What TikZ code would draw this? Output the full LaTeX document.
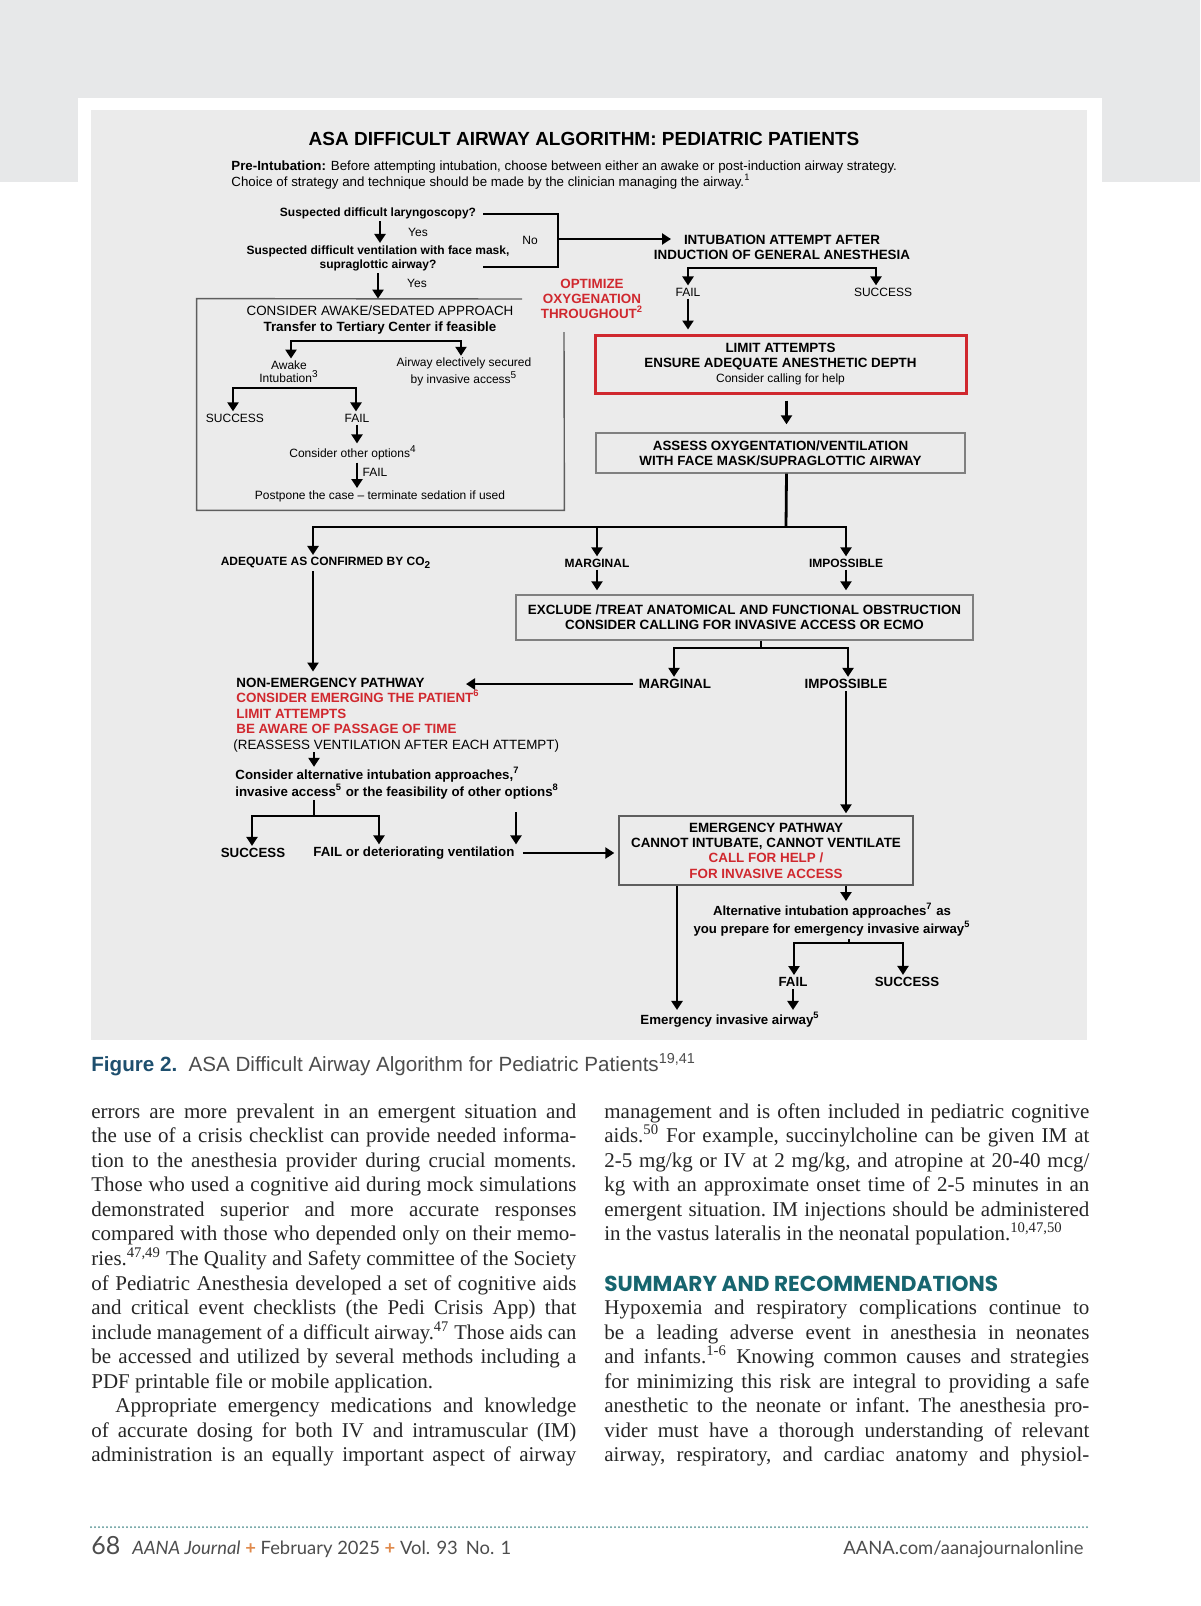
\documentclass[tikz,border=0pt]{standalone}
\usepackage{fontspec}
\usepackage{graphicx}
\setmainfont{Liberation Serif}
\newfontfamily\dfont{Liberation Sans}
\newfontfamily\headfont{Poppins}
\newfontfamily\footfont{Lato}
\usetikzlibrary{arrows.meta}
\definecolor{bandgray}{HTML}{E7E8E9}
\definecolor{figbg}{HTML}{EBEBEB}
\definecolor{algred}{HTML}{D0282E}
\definecolor{boxgray}{HTML}{5E5E5E}
\definecolor{capblue}{HTML}{1E4F6E}
\definecolor{headteal}{HTML}{17656F}
\definecolor{bodyink}{HTML}{262626}
\definecolor{footgray}{HTML}{4D4D4D}
\definecolor{plusor}{HTML}{E08A4C}
\definecolor{dotteal}{HTML}{4E8F8F}
\newcommand{\fsz}[2]{\fontsize{#1}{#2}\selectfont}
\newcommand{\colw}{242.5pt}
\newsavebox{\linebox}
\newcommand{\fitline}[1]{%
  \sbox{\linebox}{#1}%
  \ifdim\wd\linebox>\colw
    \pgfmathsetmacro{\fitf}{\colw/\the\wd\linebox}%
    \scalebox{\fitf}[1]{\usebox{\linebox}}%
  \else
    \makebox[\colw][s]{#1}%
  \fi}
\newcommand{\bline}[4]{\node[bodyline] (#1) at ({#2},{1118+24.57*#3}) {\fitline{#4}};}
\newcommand{\blast}[4]{\node[bodyline] (#1) at ({#2},{1118+24.57*#3}) {#4};}
\newcommand{\fork}[4]{%
  \draw[arr] (#2) -- (#1) -- (#1 |- #3.north);
  \draw[arr] (#1) -- (#2) -- (#2 |- #4.north);}
\tikzset{
  lbl/.style={inner sep=1pt, align=center, font=\dfont\fsz{6}{6.6}},
  bq/.style={inner sep=1pt, align=center, font=\dfont\bfseries\fsz{6}{7}},
  capb/.style={inner sep=1pt, align=center, font=\dfont\bfseries\fsz{6.7}{7.6}},
  smallcap/.style={inner sep=1pt, align=center, font=\dfont\bfseries\fsz{6}{7.6}},
  lowb/.style={inner sep=1pt, align=center, font=\dfont\bfseries\fsz{6.65}{7.5}},
  arr/.style={line width=1.4pt, -{Triangle[length=4.5pt,width=5.5pt]}},
  barline/.style={line width=1.4pt},
  framebox/.style={draw=boxgray, line width=0.7pt},
  bodyline/.style={anchor=base west, inner sep=0pt, text=bodyink, font=\frenchspacing\fsz{10.5}{12}}
}
\begin{document}
\begin{tikzpicture}[x=0.5pt,y=-0.5pt]
  \useasboundingbox (0,0) rectangle (1200,1606);
  \fill[white] (0,0) rectangle (1200,1606);
  \fill[bandgray] (0,0) rectangle (1200,182);
  \fill[white] (78,98) rectangle (1102,182);
  \fill[figbg] (91,110) rectangle (1087,1040);

  \node[inner sep=0pt, font=\dfont\bfseries\fsz{9.5}{11}] (title) at (584,139) {ASA DIFFICULT AIRWAY ALGORITHM: PEDIATRIC PATIENTS};
  \node[anchor=west, align=left, inner sep=0pt, font=\dfont\fsz{6.65}{8}] (pre) at (231,175)
    {\textbf{Pre-Intubation:} Before attempting intubation, choose between either an awake or post-induction airway strategy.\\
     Choice of strategy and technique should be made by the clinician managing the airway.\textsuperscript{1}};

  % awake / post-induction choice
  \node[bq] (q1) at (378,213) {Suspected difficult laryngoscopy?};
  \node[lbl] (yes1) at (418,232) {Yes};
  \node[bq] (q2) at (378,258) {Suspected difficult ventilation with face mask,\\supraglottic airway?};
  \node[lbl] (yes2) at (417,283) {Yes};
  \node[minimum width=183.5pt, minimum height=105.5pt, inner sep=0pt] (awk) at (380.5,404.5) {};
  \coordinate (awkgapL) at (522,299);
  \coordinate (awkgapR) at (564,332);
  \draw[framebox] (awkgapL) -- (awk.north west) -- (awk.south west) -- (awk.south east) -- (awkgapR);
  \draw[arr] ([xshift=1pt]q1.south) -- ([xshift=1pt]q1.south |- q2.north);
  \draw[arr] (q2.south) -- (q2.south |- awk.north);

  \coordinate (brTL) at (483,214);
  \coordinate (brBR) at (558,267);
  \coordinate (brBL) at (483,267);
  \coordinate (brNo) at (558,239);
  \coordinate (noTip) at (671,239);
  \draw[barline] (brTL) -| (brBR) -- (brBL);
  \node[lbl] (no) at (530,240) {No};
  \node[capb] (intub) at (782,247) {INTUBATION ATTEMPT AFTER\\INDUCTION OF GENERAL ANESTHESIA};
  \draw[arr] (brNo) -- (noTip);

  \coordinate (iL) at (688,268);
  \coordinate (iR) at (876,268);
  \node[lbl] (fail1) at (688,292) {FAIL};
  \node[lbl] (succ1) at (883,292) {SUCCESS};
  \fork{iL}{iR}{fail1}{succ1}

  \node[capb, text=algred] (opt) at (592,299) {OPTIMIZE\\OXYGENATION\\THROUGHOUT\textsuperscript{2}};

  \node[capb, draw=algred, line width=1.5pt, minimum width=185.5pt, minimum height=29pt] (lim) at (780.5,364)
    {LIMIT ATTEMPTS\\ENSURE ADEQUATE ANESTHETIC DEPTH\\{\mdseries\fsz{6}{7.4}Consider calling for help}};
  \draw[arr, shorten >=2pt] (fail1.south) -- (fail1.south |- lim.north);
  \node[capb, framebox, draw=gray, minimum width=184.5pt, minimum height=20pt] (assess) at (780.5,453)
    {ASSESS OXYGENTATION/VENTILATION\\WITH FACE MASK/SUPRAGLOTTIC AIRWAY};
  \draw[arr, shorten <=3pt, shorten >=4pt] ([xshift=3pt]lim.south) -- ([xshift=3pt]assess.north);

  \coordinate (aJ) at (786,527);
  \coordinate (aL) at (313,527);
  \coordinate (aR) at (846,527);
  \draw[barline] ([xshift=3pt]assess.south) -- (aJ);
  \node[smallcap] (adeq) at (326,563) {ADEQUATE AS CONFIRMED BY CO\textsubscript{2}};
  \node[smallcap] (marg1) at (597,563) {MARGINAL};
  \node[smallcap] (imp1) at (846,563) {IMPOSSIBLE};
  \fork{aL}{aR}{adeq}{imp1}
  \draw[arr] (marg1 |- aL) -- (marg1.north);

  \node[capb, framebox, draw=gray, minimum width=228.5pt, minimum height=22.5pt] (excl) at (744.5,617.5)
    {EXCLUDE /TREAT ANATOMICAL AND FUNCTIONAL OBSTRUCTION\\CONSIDER CALLING FOR INVASIVE ACCESS OR ECMO};
  \draw[arr, shorten >=2pt] (marg1.south) -- (marg1.south |- excl.north);
  \draw[arr, shorten >=2pt] (imp1.south) -- (imp1.south |- excl.north);

  \coordinate (eJ) at (761,648);
  \coordinate (eL) at (674,648);
  \coordinate (eR) at (848,648);
  \draw[barline] (eJ |- excl.south) -- (eJ);
  \node[capb] (marg2) at (675,684) {MARGINAL};
  \node[capb] (imp2) at (846,684) {IMPOSSIBLE};
  \fork{eL}{eR}{marg2}{imp2}

  % non-emergency pathway
  \node[anchor=west, align=left, inner sep=0pt, font=\dfont\bfseries\fsz{6.7}{7.75}] (nonem) at (233,715)
    {\hspace*{1.5pt}NON-EMERGENCY PATHWAY\\
     {\color{algred}\hspace*{1.5pt}CONSIDER EMERGING THE PATIENT\textsuperscript{6}}\\
     {\color{algred}\hspace*{1.5pt}LIMIT ATTEMPTS}\\
     {\color{algred}\hspace*{1.5pt}BE AWARE OF PASSAGE OF TIME}\\
     {\mdseries (REASSESS VENTILATION AFTER EACH ATTEMPT)}};
  \coordinate (nTip) at (466,682);
  \draw[arr, shorten <=2pt] (marg2.west) -- (marg2.west -| nTip);
  \draw[arr, shorten >=3pt] (adeq.south -| aL) -- (aL |- nonem.north);

  \node[anchor=west, align=left, inner sep=0pt, font=\dfont\bfseries\fsz{6.65}{7.5}] (alt) at (235,783.5)
    {Consider alternative intubation approaches,\textsuperscript{7}\\
     invasive access\textsuperscript{5} or the feasibility of other options\textsuperscript{8}};
  \coordinate (nX) at (314,800);
  \draw[arr] (nX |- nonem.south) -- (nX |- alt.north);

  \coordinate (sJ) at (314,816);
  \coordinate (sL) at (252,816);
  \coordinate (sR) at (379,816);
  \draw[barline] (nX |- alt.south) -- (sJ);
  \node[lowb] (succ2) at (253,853) {SUCCESS};
  \node[lowb, anchor=west] (fail2) at (311,853) {FAIL or deteriorating ventilation};
  \fork{sL}{sR}{succ2}{fail2}
  \coordinate (oX) at (516,820);
  \draw[arr, shorten <=6pt] (oX |- alt.south) -- (oX |- fail2.north);

  % emergency pathway
  \node[capb, framebox, font=\dfont\bfseries\fsz{6.7}{7.7}, minimum width=147pt, minimum height=34.5pt] (emerg) at (766,850.5)
    {EMERGENCY PATHWAY\\CANNOT INTUBATE, CANNOT VENTILATE\\{\color{algred}CALL FOR HELP /}\\{\color{algred}FOR INVASIVE ACCESS}};
  \draw[arr, shorten <=3pt, shorten >=2pt] (fail2.east) -- (fail2.east -| emerg.west);
  \draw[arr, shorten >=1pt] (imp2.south) -- (imp2.south |- emerg.north);

  \node[lowb, font=\dfont\bfseries\fsz{6.6}{9}] (alt2) at (832,920)
    {Alternative intubation approaches\textsuperscript{7} as\\you prepare for emergency invasive airway\textsuperscript{5}};
  \draw[arr] (imp2 |- emerg.south) -- (imp2 |- alt2.north);
  \coordinate (fJ) at (849,943);
  \coordinate (fL) at (794,943);
  \coordinate (fR) at (903,943);
  \draw[barline] (fJ |- alt2.south) -- (fJ);
  \node[lowb] (fail3) at (793,982) {FAIL};
  \node[lowb] (succ3) at (907,982) {SUCCESS};
  \fork{fL}{fR}{fail3}{succ3}
  \node[lowb] (eia) at (730,1020) {Emergency invasive airway\textsuperscript{5}};
  \coordinate (gX) at (677,950);
  \draw[arr] (gX |- emerg.south) -- (gX |- eia.north);
  \draw[arr] (fail3.south) -- (fail3.south |- eia.north);

  % awake box
  \node[lbl, font=\dfont\fsz{6.7}{8}] (consider) at (380,320)
    {CONSIDER AWAKE/SEDATED APPROACH\\{\bfseries\fsz{6.7}{8}Transfer to Tertiary Center if feasible}};
  \coordinate (kL) at (291,341);
  \coordinate (kR) at (461,341);
  \node[lbl] (awk1) at (289,372) {Awake\\Intubation\textsuperscript{3}};
  \node[lbl] (awk2) at (464,372) {Airway electively secured\\by invasive access\textsuperscript{5}};
  \fork{kL}{kR}{awk1}{awk2}
  \coordinate (wL) at (233,388);
  \coordinate (wR) at (356,388);
  \node[lbl] (succA) at (235,418) {SUCCESS};
  \node[lbl] (failA) at (357,418) {FAIL};
  \fork{wL}{wR}{succA}{failA}
  \node[lbl] (other) at (353,453) {Consider other options\textsuperscript{4}};
  \draw[arr] (failA.south) -- (failA.south |- other.north);
  \node[lbl] (postp) at (380,496) {Postpone the case – terminate sedation if used};
  \node[lbl] (failB) at (375,472) {FAIL};
  \draw[arr] (other.south -| failA) -- (failA |- postp.north);

  % caption
  \node[anchor=base west, inner sep=0pt, text=footgray, font=\dfont\fsz{10.3}{12}] (caption) at (91,1071)
    {{\color{capblue}\bfseries Figure 2.}\ \ ASA Difficult Airway Algorithm for Pediatric Patients\textsuperscript{19,41}};

  % left column
  \bline{bl1}{91}{0}{errors are more prevalent in an emergent situation and}
  \bline{bl2}{91}{1}{the use of a crisis checklist can provide needed informa-}
  \bline{bl3}{91}{2}{tion to the anesthesia provider during crucial moments.}
  \bline{bl4}{91}{3}{Those who used a cognitive aid during mock simulations}
  \bline{bl5}{91}{4}{demonstrated superior and more accurate responses}
  \bline{bl6}{91}{5}{compared with those who depended only on their memo-}
  \bline{bl7}{91}{6}{ries.\textsuperscript{47,49} The Quality and Safety committee of the Society}
  \bline{bl8}{91}{7}{of Pediatric Anesthesia developed a set of cognitive aids}
  \bline{bl9}{91}{8}{and critical event checklists (the Pedi Crisis App) that}
  \bline{bl10}{91}{9}{include management of a difficult airway.\textsuperscript{47} Those aids can}
  \bline{bl11}{91}{10}{be accessed and utilized by several methods including a}
  \blast{bl12}{91}{11}{PDF printable file or mobile application.}
  \bline{bl13}{91}{12}{\hspace*{12pt}Appropriate emergency medications and knowledge}
  \bline{bl14}{91}{13}{of accurate dosing for both IV and intramuscular (IM)}
  \bline{bl15}{91}{14}{administration is an equally important aspect of airway}

  % right column
  \bline{br1}{604}{0}{management and is often included in pediatric cognitive}
  \bline{br2}{604}{1}{aids.\textsuperscript{50} For example, succinylcholine can be given IM at}
  \bline{br3}{604}{2}{2-5 mg/kg or IV at 2 mg/kg, and atropine at 20-40 mcg/}
  \bline{br4}{604}{3}{kg with an approximate onset time of 2-5 minutes in an}
  \bline{br5}{604}{4}{emergent situation. IM injections should be administered}
  \blast{br6}{604}{5}{in the vastus lateralis in the neonatal population.\textsuperscript{10,47,50}}
  \node[anchor=base west, inner sep=0pt, text=headteal, font=\headfont\bfseries\fsz{10.8}{12}] (sumhd) at (604,1291) {SUMMARY AND RECOMMENDATIONS};
  \bline{br7}{604}{8}{Hypoxemia and respiratory complications continue to}
  \bline{br8}{604}{9}{be a leading adverse event in anesthesia in neonates}
  \bline{br9}{604}{10}{and infants.\textsuperscript{1-6} Knowing common causes and strategies}
  \bline{br10}{604}{11}{for minimizing this risk are integral to providing a safe}
  \bline{br11}{604}{12}{anesthetic to the neonate or infant. The anesthesia pro-}
  \bline{br12}{604}{13}{vider must have a thorough understanding of relevant}
  \bline{br13}{604}{14}{airway, respiratory, and cardiac anatomy and physiol-}

  % footer
  \draw[dotteal, line width=1pt, line cap=round, dash pattern=on 0pt off 2pt] (91,1527) -- (1087,1527);
  \node[anchor=base west, inner sep=0pt, text=footgray, font=\footfont\fsz{9.2}{10}] (foot) at (91,1554)
    {{\fsz{12.5}{14}68}\hspace{6pt}\textit{AANA Journal} {\color{plusor}\textbf{+}} February 2025 {\color{plusor}\textbf{+}} Vol. 93\hspace{4pt}No. 1};
  \node[anchor=base east, inner sep=0pt, text=footgray, font=\footfont\fsz{9.2}{10}] (url) at (1084,1554) {AANA.com/aanajournalonline};
\end{tikzpicture}
\end{document}
